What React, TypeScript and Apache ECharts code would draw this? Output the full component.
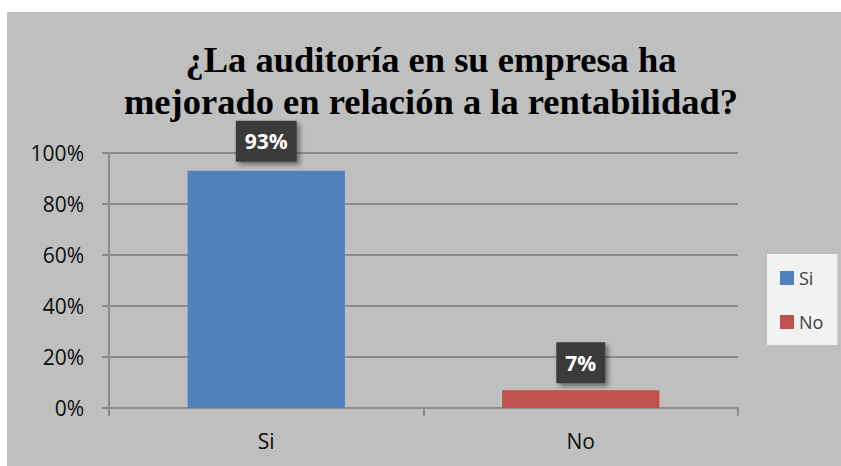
import React, { useEffect, useRef } from "react";
import * as echarts from "echarts";

const categories = ["Si", "No"];
const seriesNames = ["Si", "No"];
const siValues: (number | string)[] = [93, "-"];
const noValues: (number | string)[] = ["-", 7];
const yTicks = { min: 0, max: 100, interval: 20 };
const titleLines = ["¿La auditoría en su empresa ha", "mejorado en relación a la rentabilidad?"];

const sansFont = "Open Sans";

export default function App() {
  const ref = useRef<HTMLDivElement>(null);
  useEffect(() => {
    if (!ref.current) return;
    const chart = echarts.init(ref.current, undefined, { renderer: "svg" });
    const labelBase = {
      show: true,
      position: "top" as const,
      formatter: "{c}%",
      color: "#ffffff",
      fontFamily: sansFont,
      fontWeight: "bold" as const,
      fontSize: 21,
      lineHeight: 21,
      backgroundColor: "#3b3b3b",
      padding: [10, 9, 10, 9],
      shadowBlur: 5,
      shadowColor: "rgba(0,0,0,0.45)",
      shadowOffsetX: 3,
      shadowOffsetY: 3,
    };
    chart.setOption({
      animation: false,
      backgroundColor: "#ffffff",
      graphic: [
        {
          type: "rect",
          z: -10,
          silent: true,
          shape: { x: 7, y: 12, width: 834, height: 454 },
          style: { fill: "#bfbfbf" },
        },
        ...titleLines.map((t, i) => ({
          type: "text",
          x: 431,
          y: 59 + i * 42,
          silent: true,
          style: {
            text: t,
            font: "bold 36.5px 'Liberation Serif'",
            fill: "#000000",
            textAlign: "center",
            verticalAlign: "middle",
          },
        })),
      ],
      legend: {
        data: seriesNames,
        orient: "vertical",
        left: 767,
        top: 254,
        padding: [14, 14, 13, 13],
        backgroundColor: "#f2f2f2",
        itemWidth: 14,
        itemHeight: 14,
        itemGap: 24,
        icon: "rect",
        textStyle: {
          fontFamily: sansFont,
          fontSize: 18,
          lineHeight: 20,
          color: "#404040",
        },
      },
      grid: { left: 109, right: 103, top: 153, bottom: 58 },
      xAxis: {
        type: "category",
        data: categories,
        axisLine: { lineStyle: { color: "#8c8c8c", width: 2 } },
        axisTick: { show: true, length: 8, lineStyle: { color: "#8c8c8c", width: 2 } },
        axisLabel: {
          margin: 22,
          fontFamily: sansFont,
          fontSize: 21,
          color: "#0d0d0d",
        },
      },
      yAxis: {
        type: "value",
        min: yTicks.min,
        max: yTicks.max,
        interval: yTicks.interval,
        axisLine: { show: true, lineStyle: { color: "#8c8c8c", width: 2 } },
        axisTick: { show: true, length: 7, lineStyle: { color: "#8c8c8c", width: 2 } },
        splitLine: { lineStyle: { color: "#8c8c8c", width: 2 } },
        axisLabel: {
          margin: 25,
          formatter: "{value}%",
          fontFamily: sansFont,
          fontSize: 21,
          color: "#0d0d0d",
        },
      },
      series: [
        {
          name: seriesNames[0],
          type: "bar",
          stack: "total",
          barWidth: "50%",
          data: siValues,
          itemStyle: { color: "#4f81bd" },
          label: { ...labelBase, distance: 9 },
        },
        {
          name: seriesNames[1],
          type: "bar",
          stack: "total",
          barWidth: "50%",
          data: noValues,
          itemStyle: { color: "#c0504d" },
          label: { ...labelBase, distance: 7 },
        },
      ],
    });
    return () => chart.dispose();
  }, []);
  return (
    <div
      ref={ref}
      style={{ position: "absolute", left: 0, top: 0, width: 841, height: 466 }}
    />
  );
}
